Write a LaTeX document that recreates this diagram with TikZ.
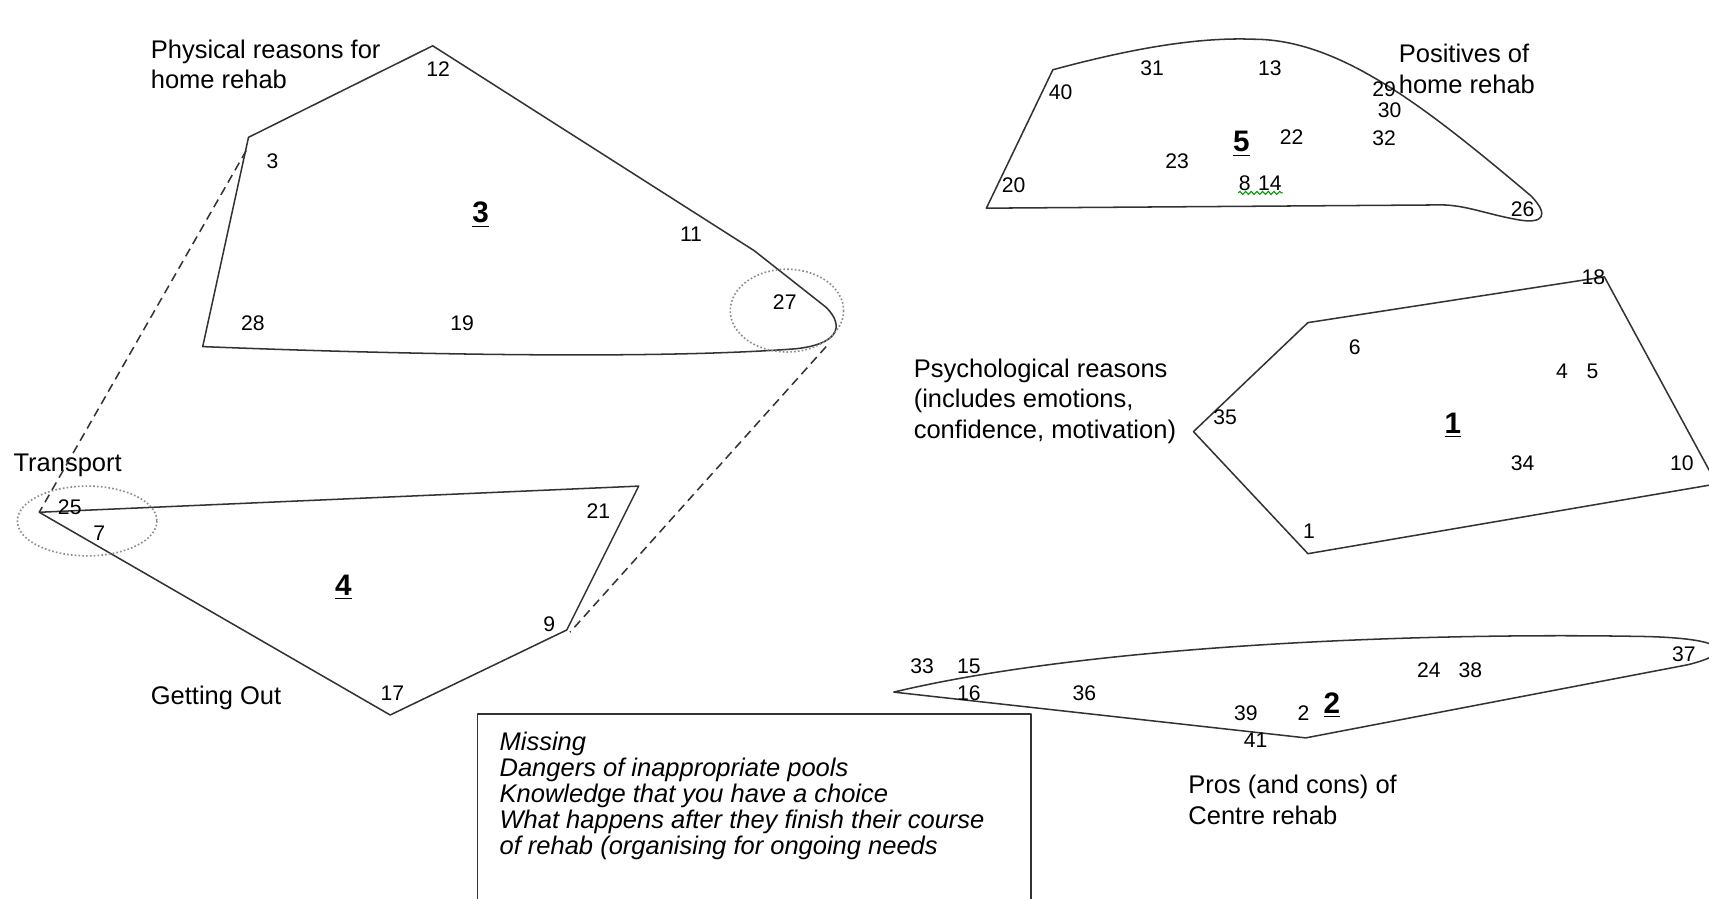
\documentclass[tikz,border=0pt]{standalone}
\usepackage{fontspec}
\setmainfont{Liberation Sans}
\usetikzlibrary{decorations.pathmorphing}

\tikzset{
  edge line/.style={draw=black!80, line width=0.7pt, line join=round},
  ring/.style={draw=black!45, densely dotted, line width=0.75pt},
  link/.style={draw=black!80, line width=0.7pt, dash pattern=on 4pt off 2.5pt},
  groupname/.style={font=\fontsize{11.7}{14}\selectfont, align=left, inner sep=0pt},
  missingtext/.style={font=\fontsize{11.7}{12}\selectfont\itshape, align=left, inner sep=0pt},
  num/.style={font=\fontsize{9.7}{11}\selectfont, inner sep=0pt},
  bignum/.style={font=\fontsize{13.6}{16}\selectfont\bfseries, inner sep=0pt},
}

\begin{document}
\begin{tikzpicture}[x=0.5pt, y=-0.5pt]

\useasboundingbox (0,0) rectangle (1568,824);
\clip (0,0) rectangle (1568,824);

% Group 3: physical reasons for home rehab
\coordinate (s3a) at (397,42);
\coordinate (s3b) at (228,126);
\coordinate (s3c) at (186,318);
\coordinate (s3d) at (692,230);
\draw[edge line] (s3a) -- (s3b) -- (s3c)
  .. controls (360,325) and (600,330) .. (730,320)
  .. controls (768,316) and (776,300) .. (758,282) -- (s3d) -- cycle;
\node[groupname, anchor=west] (physical) at (138,59) {Physical reasons for\\home rehab};
\foreach \x/\y/\t in {402/63/12, 250/148/3, 634/215/11, 720/277/27, 232/297/28, 424/297/19}
  \node[num] (n3-\t) at (\x,\y) {\t};
\node[bignum] (g3) at (441,197) {\underline{3}};
\draw[ring] (722,285) ellipse [x radius=52, y radius=38];

% Group 4: getting out / transport
\coordinate (s4a) at (36,470);
\coordinate (s4b) at (586,446);
\coordinate (s4c) at (520,578);
\coordinate (s4d) at (358,656);
\draw[edge line] (s4a) -- (s4b) -- (s4c) -- (s4d) -- cycle;
\node[groupname, anchor=west] (transport) at (12,427) {Transport};
\node[groupname, anchor=west] (gettingout) at (138,640) {Getting Out};
\foreach \x/\y/\t in {64/465/25, 91/489/7, 549/469/21, 504/573/9, 360/636/17}
  \node[num] (n4-\t) at (\x,\y) {\t};
\node[bignum] (g4) at (315,539) {\underline{4}};
\draw[ring] (80,478) ellipse [x radius=64, y radius=32];

% dashed links between 3 and 4
\coordinate (d1) at (226,138);
\coordinate (d2) at (758,318);
\coordinate (d3) at (523,580);
\draw[link] (d1) -- (s4a);
\draw[link] (d2) -- (d3);

% Group 5: positives of home rehab
\coordinate (s5a) at (905,191);
\coordinate (s5b) at (966,64);
\draw[edge line] (s5a) -- (s5b)
  .. controls (1040,44) and (1100,34) .. (1150,36)
  .. controls (1230,36) and (1310,100) .. (1405,180)
  .. controls (1422,198) and (1415,205) .. (1395,202)
  .. controls (1365,197) and (1345,188) .. (1322,188) -- cycle;
\node[groupname, anchor=west] (positives) at (1283,63) {Positives of\\home rehab};
\foreach \x/\y/\t in {1057/63/31, 1165/63/13, 973/85/40, 1270/82/29, 1275/101/30,
  1185/126/22, 1270/127/32, 1080/148/23, 930/170/20, 1142/168/8, 1165/168/14, 1397/192/26}
  \node[num] (n5-\t) at (\x,\y) {\t};
\node[bignum] (g5) at (1139,132) {\underline{5}};
\coordinate (sq1) at (1136,177);
\coordinate (sq2) at (1177,177);
\draw[green!60!black, line width=0.5pt, decorate,
  decoration={snake, amplitude=0.7pt, segment length=2.6pt}] (sq1) -- (sq2);

% Group 1: psychological reasons
\coordinate (s1a) at (1095,396);
\coordinate (s1b) at (1200,296);
\coordinate (s1c) at (1472,254);
\coordinate (s1d) at (1575,444);
\coordinate (s1e) at (1200,508);
\draw[edge line] (s1a) -- (s1b) -- (s1c) -- (s1d) -- (s1e) -- cycle;
\node[groupname, anchor=west] (psych) at (838,368) {Psychological reasons\\(includes emotions,\\confidence, motivation)};
\foreach \x/\y/\t in {1462/254/18, 1243/319/6, 1433/341/4, 1461/341/5, 1124/383/35,
  1397/425/34, 1543/425/10, 1201/487/1}
  \node[num] (n1-\t) at (\x,\y) {\t};
\node[bignum] (g1) at (1333,390) {\underline{1}};

% Group 2: centre rehab
\coordinate (s2a) at (820,635);
\coordinate (s2b) at (1198,677);
\draw[edge line] (s2a)
  .. controls (1000,592) and (1300,580) .. (1510,584)
  .. controls (1590,586) and (1590,600) .. (1548,610) -- (s2b) -- cycle;
\node[groupname, anchor=west] (centre) at (1090,734) {Pros (and cons) of\\Centre rehab};
\foreach \x/\y/\t in {846/611/33, 889/611/15, 889/636/16, 995/636/36, 1143/654/39,
  1196/654/2, 1152/679/41, 1311/615/24, 1349/615/38, 1545/600/37}
  \node[num] (n2-\t) at (\x,\y) {\t};
\node[bignum] (g2) at (1222,647) {\underline{2}};

% Missing box
\draw[edge line] (438,655) rectangle (946,840);
\node[missingtext, anchor=north west] (missing) at (458,671) {Missing\\Dangers of inappropriate pools\\Knowledge that you have a choice\\What happens after they finish their course\\of rehab (organising for ongoing needs};

\end{tikzpicture}
\end{document}
